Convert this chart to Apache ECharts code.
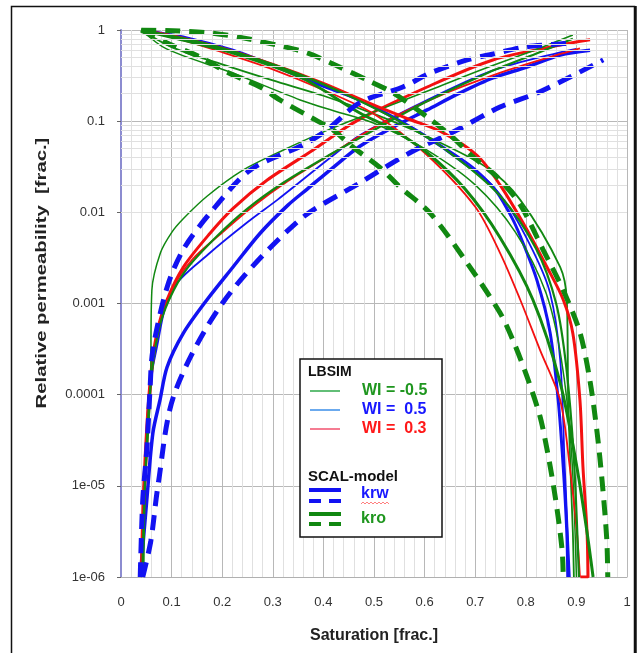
<!DOCTYPE html>
<html lang="en">
<head>
<meta charset="utf-8">
<title>Relative permeability</title>
<script src="https://cdn.jsdelivr.net/npm/echarts@6.0.0/dist/echarts.min.js"></script>
<style>
* { margin: 0; padding: 0; }
#chart-container { width: 641px; height: 653px; background: #fff; }
</style>
</head>
<body>
<div id="chart-container"></div>
<script>
// values: [saturation, rel. perm]
var yTickLabels = ['1e-06', '1e-05', '0.0001', '0.001', '0.01', '0.1', '1'];
var xTickLabels = ['0', '0.1', '0.2', '0.3', '0.4', '0.5', '0.6', '0.7', '0.8', '0.9', '1'];

// SCAL model (dashed)
var scalKrwHi = [[0.038,1e-6],[0.043,7e-6],[0.051,2.5e-5],[0.057,1.05e-4],[0.063,3.1e-4],[0.091,1.5e-3],[0.123,3.9e-3],[0.176,9.8e-3],[0.255,0.029],[0.36,0.055],[0.407,0.08],[0.472,0.16],[0.557,0.237],[0.611,0.337],[0.684,0.469],[0.735,0.545],[0.798,0.65],[0.862,0.70],[0.893,0.72]];
var scalKrwLo = [[0.043,1e-6],[0.059,2.5e-6],[0.073,1e-5],[0.105,1e-4],[0.2,1e-3],[0.35,0.008],[0.472,0.021],[0.571,0.045],[0.664,0.08],[0.749,0.143],[0.828,0.21],[0.953,0.47]];
var scalKroHi = [[0.04,1],[0.103,0.98],[0.176,0.93],[0.241,0.82],[0.308,0.685],[0.368,0.56],[0.433,0.39],[0.486,0.283],[0.538,0.204],[0.605,0.111],[0.65,0.0706],[0.696,0.0405],[0.743,0.0245],[0.789,0.0121],[0.834,0.0039],[0.874,1.4e-3],[0.907,4.8e-4],[0.927,1.4e-4],[0.941,3.8e-5],[0.951,1.1e-5],[0.96,2.6e-6],[0.962,1e-6]];
var scalKroLo = [[0.04,1],[0.091,0.72],[0.156,0.506],[0.209,0.346],[0.275,0.237],[0.314,0.171],[0.374,0.111],[0.419,0.08],[0.458,0.052],[0.512,0.031],[0.551,0.019],[0.611,0.0098],[0.68,0.003],[0.749,7.9e-4],[0.775,3.9e-4],[0.802,1.6e-4],[0.828,5.8e-5],[0.842,2.5e-5],[0.854,1.06e-5],[0.864,4.5e-6],[0.872,1.9e-6],[0.874,1e-6]];

// LBSIM krw
var krwGreenThin = [[0.045,1e-6],[0.048,1e-5],[0.058,1e-4],[0.061,1.4e-3],[0.078,3.6e-3],[0.1,6e-3],[0.123,8.5e-3],[0.17,0.015],[0.241,0.029],[0.32,0.048],[0.42,0.085],[0.52,0.14],[0.62,0.23],[0.72,0.38],[0.81,0.58],[0.893,0.88]];
var krwGreenMid = [[0.042,1e-6],[0.047,1e-5],[0.058,1.2e-4],[0.074,5e-4],[0.095,1.1e-3],[0.13,2.4e-3],[0.19,5.5e-3],[0.25,0.011],[0.32,0.021],[0.41,0.042],[0.5,0.08],[0.6,0.16],[0.72,0.33],[0.82,0.55],[0.893,0.8]];
var krwBlueThick = [[0.038,1e-6],[0.051,7e-6],[0.063,3.8e-5],[0.077,8.7e-5],[0.091,2e-4],[0.123,4.7e-4],[0.17,1.1e-3],[0.221,2.5e-3],[0.275,5.9e-3],[0.33,0.012],[0.368,0.018],[0.419,0.031],[0.472,0.053],[0.538,0.086],[0.605,0.133],[0.67,0.204],[0.735,0.298],[0.802,0.393],[0.868,0.532],[0.927,0.6]];
var krwBlueThin = [[0.04,1e-6],[0.046,1e-5],[0.055,1e-4],[0.071,3.3e-4],[0.1,1.4e-3],[0.176,3.6e-3],[0.255,8.2e-3],[0.309,0.0137],[0.419,0.042],[0.472,0.07],[0.605,0.17],[0.735,0.36],[0.868,0.57],[0.9,0.62]];
var krwRedThick = [[0.04,1e-6],[0.045,1e-5],[0.057,1.3e-4],[0.071,4.8e-4],[0.091,1.1e-3],[0.123,2.5e-3],[0.176,5.9e-3],[0.221,0.011],[0.289,0.0226],[0.379,0.048],[0.465,0.1],[0.605,0.237],[0.735,0.469],[0.868,0.685],[0.927,0.78]];
var krwRedThin = [[0.042,1e-6],[0.048,1e-5],[0.061,1.6e-4],[0.077,6e-4],[0.1,1.4e-3],[0.14,3e-3],[0.2,6e-3],[0.26,0.0115],[0.33,0.022],[0.42,0.045],[0.5,0.085],[0.62,0.18],[0.75,0.34],[0.87,0.55],[0.907,0.63]];

// LBSIM kro
var kroBlueThick = [[0.04,1],[0.13,0.82],[0.221,0.6],[0.289,0.434],[0.354,0.305],[0.419,0.22],[0.472,0.17],[0.538,0.111],[0.605,0.067],[0.67,0.0375],[0.735,0.019],[0.769,0.0095],[0.789,0.0055],[0.822,1.8e-3],[0.848,4.8e-4],[0.864,8.7e-5],[0.874,1.6e-5],[0.881,3.1e-6],[0.883,1e-6]];
var kroBlueThin = [[0.04,1],[0.13,0.8],[0.221,0.58],[0.3,0.42],[0.38,0.28],[0.47,0.17],[0.55,0.1],[0.62,0.06],[0.7,0.03],[0.76,0.013],[0.814,3.8e-3],[0.848,1.3e-3],[0.868,2.4e-4],[0.877,1.6e-5],[0.887,1e-6]];
var kroRedThick = [[0.04,1],[0.12,0.82],[0.2,0.63],[0.3,0.42],[0.4,0.26],[0.5,0.15],[0.57,0.105],[0.636,0.075],[0.704,0.042],[0.749,0.02],[0.802,6.5e-3],[0.842,2.5e-3],[0.874,1.1e-3],[0.893,4.7e-4],[0.907,8.7e-5],[0.913,1.6e-5],[0.921,3.1e-6],[0.923,1e-6],[0.908,1e-6]];
var kroRedThin = [[0.04,1],[0.12,0.78],[0.2,0.57],[0.3,0.37],[0.4,0.22],[0.5,0.12],[0.6,0.045],[0.7,0.0115],[0.749,3.6e-3],[0.789,1.1e-3],[0.828,3.1e-4],[0.868,8.7e-5],[0.887,1.6e-5],[0.901,3.1e-6],[0.907,1e-6]];
var kroGreenA = [[0.04,1],[0.12,0.78],[0.221,0.56],[0.354,0.305],[0.472,0.123],[0.538,0.08],[0.605,0.045],[0.68,0.018],[0.749,5.3e-3],[0.814,1.1e-3],[0.868,1.35e-4],[0.901,1.6e-5],[0.921,3.1e-6],[0.933,1e-6]];
var kroGreenB = [[0.04,1],[0.1,0.65],[0.2,0.42],[0.3,0.28],[0.4,0.19],[0.5,0.12],[0.6,0.07],[0.723,0.031],[0.789,0.0137],[0.868,2.5e-3],[0.881,1.1e-3],[0.884,7.4e-5],[0.893,3.1e-6],[0.895,1e-6]];
var kroGreenC = [[0.04,1],[0.09,0.62],[0.221,0.337],[0.354,0.171],[0.42,0.13],[0.5,0.095],[0.6,0.05],[0.7,0.02],[0.78,6e-3],[0.84,1.3e-3],[0.87,2.5e-4],[0.89,2.5e-5],[0.9,1e-6]];
var kroGreenD = [[0.04,1],[0.15,0.75],[0.25,0.52],[0.35,0.33],[0.45,0.19],[0.55,0.1],[0.65,0.045],[0.75,0.015],[0.82,4e-3],[0.86,1e-3],[0.88,2e-4],[0.895,2e-5],[0.905,1e-6]];

var GREEN = '#118811', BLUE = '#1212f2', RED = '#f41010';

// log minor grid: 2..9 in each decade
var minorGrid = [];
for (var e = -6; e < 0; e++) {
    for (var k = 2; k <= 9; k++) minorGrid.push({ yAxis: k * Math.pow(10, e) });
}

function line(data, color, width, dashed) {
    return {
        type: 'line',
        data: data,
        smooth: 0.3,
        showSymbol: false,
        symbol: 'none',
        silent: true,
        lineStyle: { color: color, width: width, type: dashed ? [15, 9] : 'solid', cap: 'butt' },
        z: dashed ? 4 : 3
    };
}

var series = [
    {
        type: 'line', data: [[0, 1]], symbol: 'none', silent: true,
        lineStyle: { opacity: 0 }, z: 1,
        markLine: {
            silent: true, symbol: ['none', 'none'], animation: false,
            label: { show: false },
            lineStyle: { color: '#e0e0e0', width: 1, type: 'solid' },
            emphasis: { disabled: true },
            data: minorGrid
        }
    },
    line(krwBlueThick, BLUE, 3.5), line(krwBlueThin, BLUE, 1.8),
    line(krwRedThin, RED, 1.8), line(krwRedThick, RED, 3),
    line(krwGreenMid, GREEN, 2.2), line(krwGreenThin, GREEN, 1.5),
    line(kroBlueThick, BLUE, 3), line(kroBlueThin, BLUE, 1.8),
    line(kroGreenC, GREEN, 1.5), line(kroGreenB, GREEN, 1.8),
    line(kroRedThin, RED, 1.8), line(kroRedThick, RED, 3),
    line(kroGreenD, GREEN, 2.2), line(kroGreenA, GREEN, 3),
    line(scalKrwHi, BLUE, 5, true), line(scalKrwLo, BLUE, 5, true),
    line(scalKroHi, GREEN, 5, true), line(scalKroLo, GREEN, 5, true)
];

var LX = 300, LY = 359;
var legend = [
    { type: 'rect', shape: { x: LX, y: LY, width: 142, height: 178 }, style: { fill: '#fff', stroke: '#111', lineWidth: 1.5 }, z: 10 },
    { type: 'text', x: LX + 8, y: LY + 13, style: { text: 'LBSIM', font: 'bold 14px Arial', fill: '#111', verticalAlign: 'middle' }, z: 11 },
    { type: 'line', shape: { x1: LX + 10, y1: LY + 32, x2: LX + 40, y2: LY + 32 }, style: { stroke: '#2ea84a', lineWidth: 1.5 }, z: 11 },
    { type: 'line', shape: { x1: LX + 10, y1: LY + 51, x2: LX + 40, y2: LY + 51 }, style: { stroke: '#3a8ee8', lineWidth: 1.5 }, z: 11 },
    { type: 'line', shape: { x1: LX + 10, y1: LY + 70, x2: LX + 40, y2: LY + 70 }, style: { stroke: '#f2506e', lineWidth: 1.5 }, z: 11 },
    { type: 'text', x: LX + 62, y: LY + 32, style: { text: 'WI = -0.5', font: 'bold 16px Arial', fill: '#1f961f', verticalAlign: 'middle' }, z: 11 },
    { type: 'text', x: LX + 62, y: LY + 51, style: { text: 'WI =  0.5', font: 'bold 16px Arial', fill: '#1818ff', verticalAlign: 'middle' }, z: 11 },
    { type: 'text', x: LX + 62, y: LY + 70, style: { text: 'WI =  0.3', font: 'bold 16px Arial', fill: '#ff1818', verticalAlign: 'middle' }, z: 11 },
    { type: 'text', x: LX + 8, y: LY + 118, style: { text: 'SCAL-model', font: 'bold 15px Arial', fill: '#111', verticalAlign: 'middle' }, z: 11 },
    { type: 'line', shape: { x1: LX + 9, y1: LY + 131, x2: LX + 41, y2: LY + 131 }, style: { stroke: BLUE, lineWidth: 4 }, z: 11 },
    { type: 'line', shape: { x1: LX + 9, y1: LY + 142, x2: LX + 41, y2: LY + 142 }, style: { stroke: BLUE, lineWidth: 4, lineDash: [12, 8] }, z: 11 },
    { type: 'line', shape: { x1: LX + 9, y1: LY + 155, x2: LX + 41, y2: LY + 155 }, style: { stroke: GREEN, lineWidth: 4 }, z: 11 },
    { type: 'line', shape: { x1: LX + 9, y1: LY + 165, x2: LX + 41, y2: LY + 165 }, style: { stroke: GREEN, lineWidth: 4, lineDash: [12, 8] }, z: 11 },
    { type: 'text', x: LX + 61, y: LY + 135, style: { text: 'krw', font: 'bold 16px Arial', fill: '#1818ff', verticalAlign: 'middle' }, z: 11 },
    { type: 'polyline', shape: { points: [[LX + 61, LY + 145], [LX + 63, LY + 143], [LX + 65, LY + 145], [LX + 67, LY + 143], [LX + 69, LY + 145], [LX + 71, LY + 143], [LX + 73, LY + 145], [LX + 75, LY + 143], [LX + 77, LY + 145], [LX + 79, LY + 143], [LX + 81, LY + 145], [LX + 83, LY + 143], [LX + 85, LY + 145], [LX + 87, LY + 143], [LX + 89, LY + 145]] }, style: { stroke: '#ff6060', lineWidth: 0.8, fill: null }, z: 11 },
    { type: 'text', x: LX + 61, y: LY + 160, style: { text: 'kro', font: 'bold 16px Arial', fill: '#1f961f', verticalAlign: 'middle' }, z: 11 },
    // y axis title, stretched along its length like the picture
    { type: 'text', x: 42, y: 273, rotation: Math.PI / 2, scaleX: 1.45,
      style: { text: 'Relative permeability  [frac.]', font: 'bold 14px Arial', fill: '#222', align: 'center', verticalAlign: 'middle' }, z: 11 },
    // outer frame
    { type: 'rect', shape: { x: 11.5, y: 6.5, width: 623, height: 680 }, style: { fill: null, stroke: '#111', lineWidth: 1.5 }, z: 12 },
    { type: 'line', shape: { x1: 635.5, y1: 6, x2: 635.5, y2: 653 }, style: { stroke: '#111', lineWidth: 2.5 }, z: 12 }
];

var myChart = echarts.init(document.getElementById('chart-container'));
myChart.setOption({
    animation: false,
    backgroundColor: '#fff',
    grid: { left: 121, top: 30, right: 14, bottom: 76 },
    xAxis: {
        type: 'value', min: 0, max: 1, interval: 0.1,
        name: 'Saturation [frac.]', nameLocation: 'middle', nameGap: 51,
        nameTextStyle: { fontFamily: 'Arial', fontWeight: 'bold', fontSize: 16, color: '#222' },
        axisLine: { show: true, lineStyle: { color: '#b0b0b0' } },
        axisTick: { show: false },
        axisLabel: { margin: 19, fontFamily: 'Arial', fontSize: 13, color: '#333',
            formatter: function (v) { return xTickLabels[Math.round(v * 10)]; } },
        splitLine: { show: true, lineStyle: { color: '#b8b8b8', width: 1 } },
        minorTick: { show: false, splitNumber: 5 },
        minorSplitLine: { show: true, lineStyle: { color: '#e0e0e0', width: 1 } }
    },
    yAxis: {
        type: 'log', logBase: 10, min: 1e-6, max: 1, splitNumber: 6,
        axisLine: { show: true, lineStyle: { color: '#8c8cd0', width: 2 } },
        axisTick: { show: true, length: 4, lineStyle: { color: '#666' } },
        axisLabel: { margin: 16, fontFamily: 'Arial', fontSize: 13, color: '#333',
            formatter: function (v) { return yTickLabels[Math.round(Math.log10(v)) + 6]; } },
        splitLine: { show: true, lineStyle: { color: '#b8b8b8', width: 1 } }
    },
    series: series,
    graphic: legend
});
</script>
</body>
</html>
